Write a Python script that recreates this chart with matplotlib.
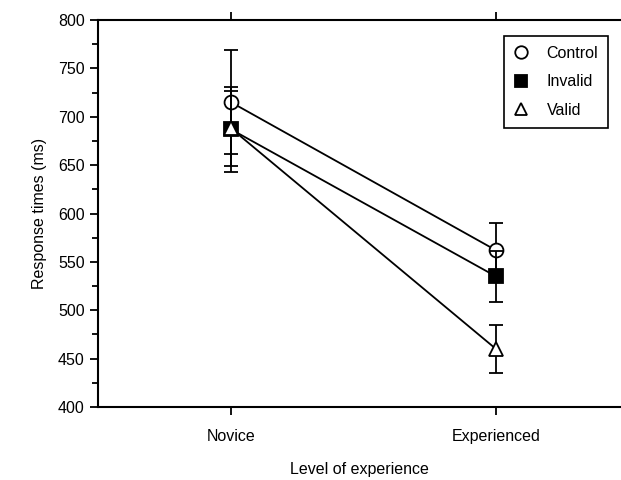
import numpy as np
import matplotlib.pyplot as plt
from matplotlib.lines import Line2D

plt.rcParams['font.family'] = ['Liberation Sans', 'DejaVu Sans']

levels = ["Novice", "Experienced"]
x = [1, 2]
control = [715, 562]
control_err = [54, 28]
invalid = [687, 535]
invalid_err = [44, 26]
valid = [688, 460]
valid_err = [39, 25]

fig = plt.figure(figsize=(6.21, 4.8), dpi=100)
ax = fig.add_axes([98/621, 1-407/480, 1-98/621, 387/480])

ekw = dict(color="k", lw=1.3, capsize=5, capthick=1.3, ms=10, mec="k", mew=1.3)
ax.errorbar(x, control, yerr=control_err, marker="o", mfc="white", zorder=3, **ekw)
ax.errorbar(x, invalid, yerr=invalid_err, marker="s", mfc="black", zorder=4, **ekw)
ax.errorbar(x, valid, yerr=valid_err, marker="^", mfc="white", zorder=5, **ekw)

ax.set_xlim(0.498, 2.472)
ax.set_ylim(400, 800)
ax.set_xticks(x)
ax.set_xticklabels(levels, fontsize=11.5)
ax.set_yticks(np.arange(400, 801, 50))
ax.set_yticks(np.arange(425, 800, 50), minor=True)
ax.tick_params(axis="y", which="major", direction="out", length=6, width=1.3, labelsize=11.5)
ax.tick_params(axis="y", which="minor", direction="out", length=4, width=1.3)
ax.tick_params(axis="x", direction="out", length=6, width=1.3, labelsize=11.5, pad=10, top=True)
ax.spines["right"].set_visible(False)
for s in ["left", "bottom", "top"]:
    ax.spines[s].set_linewidth(1.5)

ax.set_ylabel("Response times (ms)", fontsize=11.5, labelpad=8)
ax.set_xlabel("Level of experience", fontsize=11.5, labelpad=13)

handles = [
    Line2D([], [], ls="none", marker="o", mfc="white", mec="k", mew=1.3, ms=9),
    Line2D([], [], ls="none", marker="s", mfc="black", mec="k", mew=1.3, ms=9),
    Line2D([], [], ls="none", marker="^", mfc="white", mec="k", mew=1.3, ms=9),
]
leg = ax.legend(handles, ["Control", "Invalid", "Valid"], loc="upper right",
                bbox_to_anchor=(0.975, 0.958), borderaxespad=0, fontsize=11.5,
                fancybox=False, edgecolor="k", framealpha=1, labelspacing=0.85,
                handlelength=1.0, handletextpad=1.1, borderpad=0.6)
leg.get_frame().set_linewidth(1.2)

plt.savefig("out.png", dpi=100)
